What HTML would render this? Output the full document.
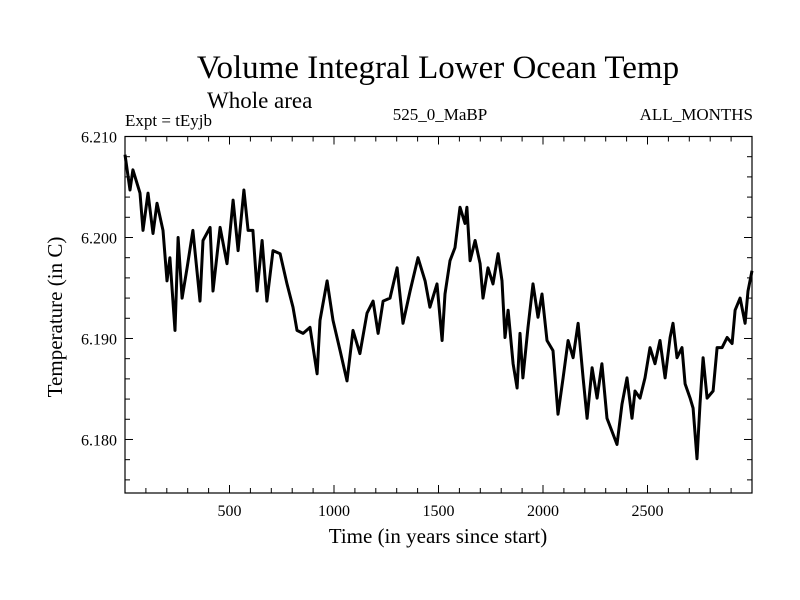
<!DOCTYPE html>
<html><head><meta charset="utf-8">
<style>
html,body{margin:0;padding:0;background:#fff;}
svg{display:block;font-family:"Liberation Serif",serif;}
</style></head>
<body>
<svg id="chart" width="800" height="600" viewBox="0 0 800 600">
<rect x="0" y="0" width="800" height="600" fill="#fff"/>
<text x="438" y="78" font-size="33" text-anchor="middle">Volume Integral Lower Ocean Temp</text>
<text x="207" y="108" font-size="23">Whole area</text>
<text x="125" y="126" font-size="17">Expt = tEyjb</text>
<text x="440" y="120" font-size="17" text-anchor="middle">525_0_MaBP</text>
<text x="753" y="120" font-size="17" text-anchor="end">ALL_MONTHS</text>
<text x="438" y="543" font-size="21" text-anchor="middle">Time (in years since start)</text>
<text transform="translate(62,317) rotate(-90)" font-size="21" text-anchor="middle">Temperature (in C)</text>
<g id="axes"></g>
<g id="series"></g>
<rect x="125" y="136.5" width="627" height="356.5" fill="none" stroke="#000" stroke-width="1.2"/>
</svg>
<script>
const years=[0,24,38,72,86,110,134,153,182,201,215,239,254,273,297,325,359,373,407,421,455,488,517,541,569,589,612,632,656,679,708,742,775,804,823,852,885,919,933,967,995,1029,1062,1091,1124,1158,1187,1211,1235,1268,1302,1330,1364,1402,1436,1459,1493,1517,1531,1555,1579,1603,1627,1636,1651,1675,1699,1713,1737,1761,1785,1804,1818,1833,1857,1876,1890,1904,1928,1952,1976,1995,2019,2048,2072,2096,2120,2144,2168,2192,2211,2235,2259,2282,2306,2330,2354,2378,2402,2426,2440,2464,2488,2512,2536,2560,2584,2608,2622,2641,2665,2680,2704,2718,2737,2751,2766,2785,2814,2833,2857,2881,2905,2919,2943,2967,2981,3000];
const temps=[6.2082,6.2047,6.2067,6.2044,6.2007,6.2044,6.2004,6.2034,6.2007,6.1957,6.1980,6.1908,6.2000,6.1940,6.1970,6.2007,6.1937,6.1997,6.2010,6.1947,6.2010,6.1974,6.2037,6.1987,6.2047,6.2007,6.2007,6.1947,6.1997,6.1937,6.1987,6.1984,6.1954,6.1931,6.1908,6.1905,6.1911,6.1865,6.1918,6.1957,6.1918,6.1888,6.1858,6.1908,6.1885,6.1925,6.1937,6.1905,6.1937,6.1940,6.1970,6.1915,6.1947,6.1980,6.1957,6.1931,6.1954,6.1898,6.1944,6.1977,6.1990,6.2030,6.2014,6.2030,6.1977,6.1997,6.1974,6.1940,6.1970,6.1954,6.1984,6.1957,6.1901,6.1928,6.1875,6.1851,6.1905,6.1861,6.1911,6.1954,6.1921,6.1944,6.1898,6.1888,6.1825,6.1861,6.1898,6.1881,6.1915,6.1861,6.1821,6.1871,6.1841,6.1875,6.1821,6.1808,6.1795,6.1835,6.1861,6.1821,6.1848,6.1841,6.1861,6.1891,6.1875,6.1898,6.1861,6.1901,6.1915,6.1881,6.1891,6.1855,6.1841,6.1831,6.1781,6.1835,6.1881,6.1841,6.1848,6.1891,6.1891,6.1901,6.1895,6.1928,6.1940,6.1915,6.1947,6.1967];
const yTicks=[6.180,6.190,6.200,6.210];
const yTickLabels=["6.180","6.190","6.200","6.210"];
const xTicks=[500,1000,1500,2000,2500];
const xTickLabels=["500","1000","1500","2000","2500"];

const X0=125,X1=752,Y0=493,Y1=136.5,XMIN=0,XMAX=3000,YMIN=6.1747,YMAX=6.210;
const sx=v=>X0+(v-XMIN)/(XMAX-XMIN)*(X1-X0);
const sy=v=>Y0-(v-YMIN)/(YMAX-YMIN)*(Y0-Y1);
const NS="http://www.w3.org/2000/svg";
const axes=document.getElementById('axes');
function ln(x1,y1,x2,y2,name){
  const l=document.createElementNS(NS,'line');
  l.setAttribute('x1',x1);l.setAttribute('y1',y1);l.setAttribute('x2',x2);l.setAttribute('y2',y2);
  l.setAttribute('stroke','#000');l.setAttribute('stroke-width','1');
  
  
  axes.appendChild(l);
}
function tx(x,y,s,anchor,name){
  const t=document.createElementNS(NS,'text');
  t.setAttribute('x',x);t.setAttribute('y',y);t.setAttribute('font-size','16');t.setAttribute('text-anchor',anchor);
  t.textContent=s;
  
  
  axes.appendChild(t);
}
for(let v=100;v<3000;v+=100){
  const x=sx(v),maj=v%500===0,len=maj?8:5;
  ln(x,Y0,x,Y0-len,'x-tick');
  ln(x,Y1,x,Y1+len,'x-tick-top');
}
for(let k=0;k<=17;k++){
  const v=6.176+k*0.002; if(v>YMAX-1e-6) break;
  const y=sy(v),maj=Math.abs((v*1000)%10)<0.01||Math.abs((v*1000)%10-10)<0.01,len=maj?8:5;
  ln(X0,y,X0+len,y,'y-tick');
  ln(X1,y,X1-len,y,'y-tick-right');
}
xTicks.forEach((v,i)=>tx(sx(v),516,xTickLabels[i],'middle','x-tick-label'));
yTicks.forEach((v,i)=>tx(X0-8,sy(v)+6,yTickLabels[i],'end','y-tick-label'));
const p=document.createElementNS(NS,'path');
p.setAttribute('d',years.map((yr,i)=>(i?'L':'M')+sx(yr).toFixed(1)+' '+sy(temps[i]).toFixed(1)).join(' '));
p.setAttribute('fill','none');p.setAttribute('stroke','#000');p.setAttribute('stroke-width','3');p.setAttribute('stroke-linejoin','round');


document.getElementById('series').appendChild(p);
</script>
</body></html>
